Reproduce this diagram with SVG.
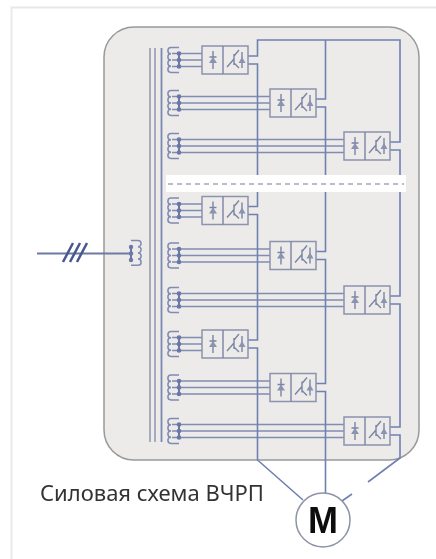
<svg xmlns="http://www.w3.org/2000/svg" width="436" height="559" viewBox="0 0 436 559">
<style>
.w{fill:none;stroke:#7f8cb3;stroke-width:1.6}
.b{fill:none;stroke:#6f80b3;stroke-width:1.6}
.bx{fill:#ecebe9;stroke:#8b93ad;stroke-width:1.5}
.s{fill:none;stroke:#7a84a4;stroke-width:1.4}
.f{fill:#8a93b0}
.c{fill:none;stroke:#7f8bb2;stroke-width:1.5}
.d{fill:#6a78a8}
</style>
<defs>
<filter id="soft" x="-5%" y="-5%" width="110%" height="110%"><feGaussianBlur stdDeviation="0.45"/></filter>
<g id="cell">
<rect class="bx" x="0" y="-14" width="46" height="28"/>
<path class="s" d="M21-14V14M11-9V9M7.500-3H14.500M25 7L32-1M32-6V5M32-4L37-10M32 3L37 8M40-8V8"/>
<path class="f" d="M11-3L15 3H7ZM40-3L43.500 3H36.500Z"/>
</g>
<g id="coil">
<path class="c" d="M179-12.400H171a3.100 3.100 0 0 0 0 6.200a3.100 3.100 0 0 0 0 6.200a3.100 3.100 0 0 0 0 6.200a3.100 3.100 0 0 0 0 6.200H179"/>
<path d="M179-7V7" stroke="#6a78a8" stroke-width="2"/>
<circle class="d" cx="179" cy="-6.500" r="2.300"/><circle class="d" cx="179" cy="0" r="2.300"/><circle class="d" cx="179" cy="6.500" r="2.300"/>
</g>
</defs>
<rect width="436" height="559" fill="#fff"/>
<path d="M11.500 559V7.500H436" fill="none" stroke="#e8e8e8" stroke-width="1.800"/>
<g filter="url(#soft)">
<g id="panel">
<rect x="104" y="27" width="315" height="433" rx="30" fill="#ecebe9" stroke="#999" stroke-width="1.500"/>
</g>
<g id="transformer">
<path d="M150 48V442" fill="none" stroke="#9096aa" stroke-width="1.500"/>
<path d="M155 48V442" fill="none" stroke="#8c94b0" stroke-width="1.500"/>
<path d="M161.500 48V442" fill="none" stroke="#7b88b4" stroke-width="1.800"/>
<g id="input-coil">
<path class="c" d="M131 240.500H138a3.100 3.100 0 0 1 0 6.200a3.100 3.100 0 0 1 0 6.200a3.100 3.100 0 0 1 0 6.200a3.100 3.100 0 0 1 0 6.200H131"/>
<path d="M131 247V260" stroke="#6a78a8" stroke-width="2"/>
<circle class="d" cx="131" cy="247" r="2.200"/><circle class="d" cx="131" cy="253.500" r="2.200"/><circle class="d" cx="131" cy="260" r="2.200"/>
</g>
</g>
<g id="connectors">
<path class="w" d="M172 53.500H202M172 60H202M172 66.500H202M172 96.500H270M172 103H270M172 109.500H270M172 139.500H344M172 146H344M172 152.500H344M172 204H202M172 210.500H202M172 217H202M172 249H270M172 255.500H270M172 262H270M172 293.500H344M172 300H344M172 306.500H344M172 337.500H202M172 344H202M172 350.500H202M172 381H270M172 387.500H270M172 394H270M172 424.500H344M172 431H344M172 437.500H344"/>
<path class="b" d="M248 56H257.500V40H400V142H390M325.500 40V99H316M248 64H257.500V206.500H248M248 214.500H257.500V340H248M248 348H257.500V460L303 500M316 107H325.500V251.500H316M316 259.500H325.500V383.500H316M316 391.500H325.500V494M390 150H400V296H390M390 304H400V427H390M390 435H400V458L368 482M352 494L342 501"/>
<path d="M37 253.500H131" fill="none" stroke="#6d7aa6" stroke-width="1.800"/>
<path d="M63 262L73 243M70 262L80 243M77 262L87 243" fill="none" stroke="#46598f" stroke-width="2.500"/>
</g>
<g id="converter-1"><use href="#coil" y="60"/><use href="#cell" x="202" y="60"/></g>
<g id="converter-2"><use href="#coil" y="103"/><use href="#cell" x="270" y="103"/></g>
<g id="converter-3"><use href="#coil" y="146"/><use href="#cell" x="344" y="146"/></g>
<g id="separator">
<rect x="166" y="175" width="240" height="17" fill="#fff"/>
<path d="M168 184H404" fill="none" stroke="#a6a8b8" stroke-width="1.500" stroke-dasharray="5 4"/>
</g>
<g id="converter-4"><use href="#coil" y="210.500"/><use href="#cell" x="202" y="210.500"/></g>
<g id="converter-5"><use href="#coil" y="255.500"/><use href="#cell" x="270" y="255.500"/></g>
<g id="converter-6"><use href="#coil" y="300"/><use href="#cell" x="344" y="300"/></g>
<g id="converter-7"><use href="#coil" y="344"/><use href="#cell" x="202" y="344"/></g>
<g id="converter-8"><use href="#coil" y="387.500"/><use href="#cell" x="270" y="387.500"/></g>
<g id="converter-9"><use href="#coil" y="431"/><use href="#cell" x="344" y="431"/></g>
<g id="motor">
<circle cx="323" cy="520" r="27" fill="#fff" stroke="#8d93a6" stroke-width="1.500"/>
<text x="323" y="533" text-anchor="middle" font-family="'Liberation Sans',Arial,sans-serif" font-weight="700" font-size="36" fill="#111">М</text>
</g>
<text id="caption" x="40" y="501" font-family="'Noto Sans','Open Sans',sans-serif" font-size="22" fill="#333">Силовая схема ВЧРП</text>
</g>
</svg>
